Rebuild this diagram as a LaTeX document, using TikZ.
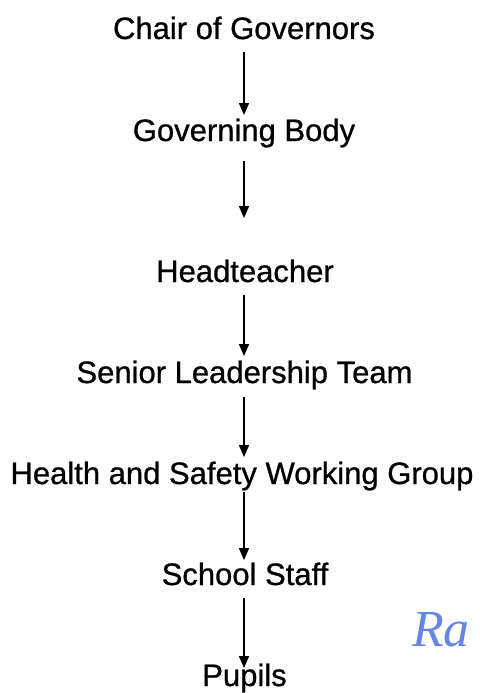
\documentclass[tikz,border=0pt]{standalone}
\usepackage{fontspec}
\setmainfont{Liberation Sans}
\newfontface\levelfont{Liberation Sans}[RawFeature={embolden=0.8}]
\newfontfamily\signfont{Liberation Serif}
\usetikzlibrary{arrows.meta}
\definecolor{signblue}{RGB}{100,135,225}

\begin{document}
\begin{tikzpicture}[x=1pt,y=-1pt,
    level/.style={anchor=base,inner sep=0pt,font=\levelfont\fontsize{31}{31}\selectfont},
    flow/.style={line width=1.7pt,-{Triangle[length=12pt,width=10pt]}}]
        \useasboundingbox (0,0) rectangle (479,693);
        \node[level] (chair) at (244,39) {Chair of Governors};
        \node[level] (body) at (244,141) {Governing Body};
        \node[level] (head) at (245,282) {Headteacher};
        \node[level] (slt) at (244.5,383) {Senior Leadership Team};
        \node[level] (hswg) at (242,484) {Health and Safety Working Group};
        \node[level] (staff) at (245,585) {School Staff};
        \node[level] (pupils) at (244.5,686) {Pupils};
        \draw[flow,shorten <=13pt,shorten >=26pt] (chair.base) -- (chair.base |- body.base);
        \draw[flow,shorten <=20pt,shorten >=64pt] (chair.base |- body.base) -- (chair.base |- head.base);
        \draw[flow,shorten <=13pt,shorten >=27pt] (chair.base |- head.base) -- (chair.base |- slt.base);
        \draw[flow,shorten <=14pt,shorten >=27pt] (chair.base |- slt.base) -- (chair.base |- hswg.base);
        \draw[flow,shorten <=8pt,shorten >=25pt] (chair.base |- hswg.base) -- (chair.base |- staff.base);
        \draw[flow,shorten <=13pt,shorten >=18pt] (chair.base |- staff.base) -- (chair.base |- pupils.base);
        \node[anchor=base west,inner sep=0pt,text=signblue,
              font=\signfont\itshape\fontsize{52}{52}\selectfont] (sign) at (412,646) {Ra};
      \end{tikzpicture}
\end{document}
